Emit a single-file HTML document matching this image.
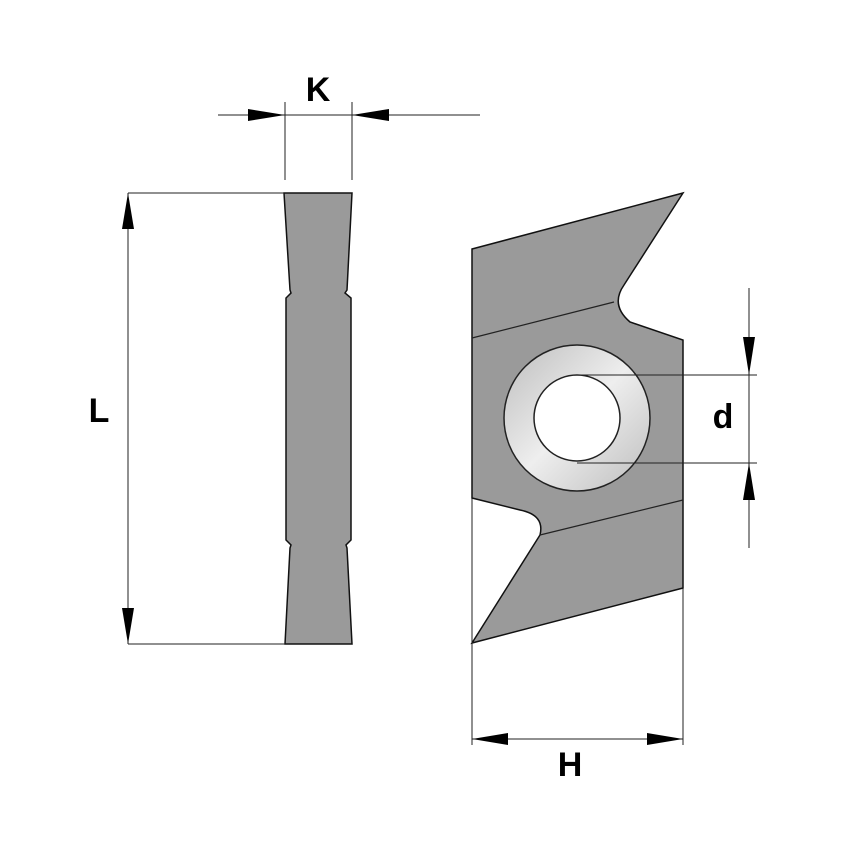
<!DOCTYPE html>
<html><head><style>html,body{margin:0;padding:0;background:#fff}svg{display:block}</style></head>
<body>
<svg width="848" height="848" viewBox="0 0 848 848" xmlns="http://www.w3.org/2000/svg">
<defs>
<linearGradient id="rg" x1="0" y1="0" x2="1" y2="1">
<stop offset="0" stop-color="#bdbdbd"/><stop offset="0.5" stop-color="#eeeeee"/><stop offset="1" stop-color="#bdbdbd"/>
</linearGradient>
</defs>
<g fill="#9a9a9a" stroke="#111" stroke-width="1.5">
<path d="M284,193 L352,193 L347,290 L345,293 L351,298 L351,540 L346,545 L347,548 L352,644 L285,644 L290,548 L291,545 L286,540 L286,298 L291,293 L290,290 Z"/>
<path d="M472,249 L683,193 L624,285 Q610,305 630,322 L683,340 L683,588 L472,643 L540,535 Q545,515 520,510 L472,498 Z"/>
</g>
<g stroke="#222" stroke-width="1.2" fill="none">
<line x1="472" y1="338" x2="614" y2="302"/>
<line x1="540" y1="535" x2="683" y2="500"/>
</g>
<circle cx="577" cy="418" r="73" fill="url(#rg)" stroke="#222" stroke-width="1.5"/>
<circle cx="577" cy="418" r="43" fill="#fff" stroke="#222" stroke-width="1.5"/>
<g stroke="#222" stroke-width="1" fill="none">
<line x1="577" y1="375" x2="757" y2="375"/>
<line x1="577" y1="463" x2="757" y2="463"/>
<line x1="749" y1="288" x2="749" y2="548"/>
<line x1="472" y1="498" x2="472" y2="745"/>
<line x1="683" y1="588" x2="683" y2="745"/>
<line x1="472" y1="739" x2="683" y2="739"/>
<line x1="128" y1="193" x2="128" y2="644"/>
<line x1="128" y1="193" x2="284" y2="193"/>
<line x1="128" y1="644" x2="285" y2="644"/>
<line x1="218" y1="115" x2="480" y2="115"/>
<line x1="285" y1="102" x2="285" y2="180"/>
<line x1="352" y1="102" x2="352" y2="180"/>
</g>
<g fill="#000">
<polygon points="749,375 743,337 755,337"/>
<polygon points="749,463 743,500 755,500"/>
<polygon points="472,739 508,733 508,745"/>
<polygon points="683,739 647,733 647,745"/>
<polygon points="128,193 122,229 134,229"/>
<polygon points="128,644 122,608 134,608"/>
<polygon points="285,115 248,109 248,121"/>
<polygon points="352,115 389,109 389,121"/>
</g>
<g font-family="Liberation Sans, sans-serif" font-weight="bold" font-size="34" fill="#000" text-anchor="middle">
<text x="318" y="101">K</text>
<text x="99" y="422">L</text>
<text x="723" y="428">d</text>
<text x="570" y="776">H</text>
</g>
</svg>
</body></html>
